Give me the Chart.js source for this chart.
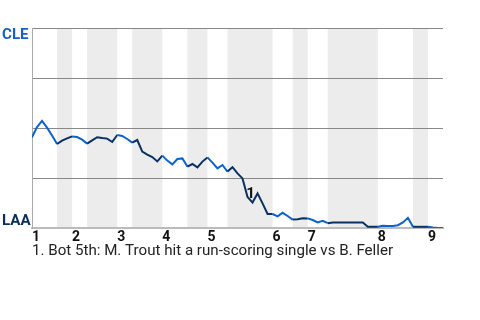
<!DOCTYPE html>
<html>
<head>
<meta charset="utf-8">
<title>Win Probability</title>
<style>
  body { margin: 0; background: #fff; }
  #wrap { position: relative; width: 480px; height: 320px; }
</style>
</head>
<body>
<div id="wrap"><canvas id="myChart" width="480" height="320"></canvas></div>
<script src="https://cdn.jsdelivr.net/npm/chart.js@4.4.0/dist/chart.umd.min.js"></script>
<script>
// win probability per plate appearance (0 = LAA wins, 100 = CLE wins)
var wp = [45.3, 50.5, 53.6, 50.2, 46.3, 42, 43.7, 44.8, 45.8, 45.5,
          44.2, 42.2, 43.8, 45.4, 45, 44.7, 43, 46.5, 46, 44.5,
          42.7, 44, 38.2, 36.7, 35.5, 33.3, 36.2, 33.7, 31.8, 34.5,
          34.8, 30.7, 32, 30.3, 33.2, 35.3, 32.7, 29.8, 31.5, 28.2,
          30.4, 27.3, 24.8, 15.5, 12.7, 17.3, 12.3, 7, 7, 5.8,
          7.6, 6, 4.2, 4.4, 4.9, 4.8, 4, 2.8, 3.6, 2.4,
          2.7, 2.7, 2.7, 2.7, 2.7, 2.7, 2.7, 0.6, 0.6, 0.6,
          1.1, 1, 1, 1.4, 2.8, 5.1, 0.6, 0.6, 0.6, 0.6,
          0.2, 0, 0];
// plate appearance index where each half inning starts (last = end of game)
var halfStarts = [0, 5, 8, 11, 17, 20, 26, 31, 35, 39, 48, 52, 55, 59, 69, 76, 79, 82];
var innings = ['1', '2', '3', '4', '5', '6', '7', '8', '9'];
var teamTop = 'CLE';
var teamBottom = 'LAA';
var notes = ['1. Bot 5th: M. Trout hit a run-scoring single vs B. Feller'];
var noteIndex = [43];

var lightBlue = '#0b63ce';
var darkBlue = '#0a3062';
var stretch = 1.08; // text in the picture is a bit wider than normal

var points = wp.map(function(v, i) { return {x: i, y: v}; });
var inningStarts = halfStarts.filter(function(v, i) { return i % 2 == 0 && i < halfStarts.length - 1; });

function inBottomHalf(i) {
    for (var k = 1; k < halfStarts.length - 1; k += 2) {
        if (i >= halfStarts[k] && i < halfStarts[k + 1]) return true;
    }
    return false;
}

function wideText(c, t, x, y) {
    c.save();
    c.translate(x, y);
    c.scale(stretch, 1);
    c.fillText(t, 0, 0);
    c.restore();
}

var decor = {
    id: 'decor',
    beforeDraw: function(chart) {
        var c = chart.ctx, a = chart.chartArea, xs = chart.scales.x;
        c.save();
        c.fillStyle = '#ececec';
        for (var k = 1; k < halfStarts.length - 1; k += 2) {
            var x0 = xs.getPixelForValue(halfStarts[k]);
            var x1 = xs.getPixelForValue(halfStarts[k + 1]);
            c.fillRect(x0, a.top, x1 - x0, a.bottom - a.top);
        }
        c.restore();
    },
    afterDraw: function(chart) {
        var c = chart.ctx, xs = chart.scales.x, ys = chart.scales.y;
        c.save();
        c.font = 'bold 14px Roboto';
        c.textAlign = 'left';
        c.textBaseline = 'alphabetic';
        c.fillStyle = '#1560c8';
        wideText(c, teamTop, 2, 39);
        c.fillStyle = '#0c2c5c';
        wideText(c, teamBottom, 2, 225);
        // event markers
        c.font = 'bold 14px Roboto';
        c.fillStyle = '#111';
        c.textAlign = 'center';
        c.textBaseline = 'middle';
        noteIndex.forEach(function(idx, n) {
            wideText(c, String(n + 1), xs.getPixelForValue(idx) + 3, ys.getPixelForValue(wp[idx]) - 3);
        });
        c.font = '14px Roboto';
        c.fillStyle = '#222';
        c.textAlign = 'left';
        c.textBaseline = 'alphabetic';
        notes.forEach(function(t, n) {
            wideText(c, t, 32, 255 + n * 17);
        });
        c.restore();
    }
};

var ctx = document.getElementById('myChart').getContext('2d');
var chart = new Chart(ctx, {
    type: 'line',
    data: {
        datasets: [{
            data: points,
            borderColor: lightBlue,
            borderWidth: 2,
            pointRadius: 0,
            tension: 0,
            fill: false,
            segment: {
                borderColor: function(s) { return inBottomHalf(s.p0DataIndex) ? darkBlue : lightBlue; }
            }
        }]
    },
    options: {
        responsive: false,
        animation: false,
        layout: { padding: { left: 32, right: 37, top: 28, bottom: 0 } },
        plugins: { legend: { display: false }, tooltip: { enabled: false } },
        scales: {
            x: {
                type: 'linear',
                min: 0,
                max: halfStarts[halfStarts.length - 1],
                afterBuildTicks: function(s) { s.ticks = inningStarts.map(function(v) { return {value: v}; }); },
                afterFit: function(s) { s.height = 92; },
                ticks: {
                    align: 'start',
                    autoSkip: false,
                    maxRotation: 0,
                    padding: 1,
                    color: '#111',
                    font: { family: 'Roboto', weight: 'bold', size: 14 },
                    callback: function(v) { return innings[inningStarts.indexOf(v)]; }
                },
                grid: { display: false, drawTicks: false },
                border: { color: '#bbb', width: 2 }
            },
            y: {
                min: 0,
                max: 100,
                afterBuildTicks: function(s) { s.ticks = [0, 25, 50, 75, 100].map(function(v) { return {value: v}; }); },
                afterFit: function(s) { s.width = 0; },
                ticks: { display: false },
                grid: {
                    drawTicks: false,
                    color: function(c) { return c.tick && c.tick.value === 0 ? 'rgba(0,0,0,0)' : '#888'; }
                },
                border: { color: '#aaa', width: 1 }
            }
        }
    },
    plugins: [decor]
});
</script>
</body>
</html>
